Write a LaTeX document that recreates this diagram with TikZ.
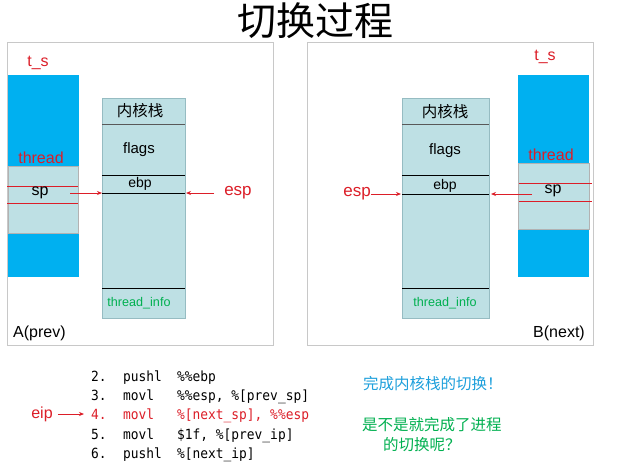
\documentclass[tikz,border=0pt]{standalone}
\usepackage{fontspec}
\setmainfont{Liberation Sans}
\newfontfamily\cjk{Noto Sans CJK SC}
\newfontfamily\codefont[FakeStretch=0.92]{DejaVu Sans Mono}
\usetikzlibrary{arrows.meta}
\definecolor{tsblue}{RGB}{0,176,240}
\definecolor{lightcy}{RGB}{190,224,228}
\definecolor{stkborder}{RGB}{150,188,194}
\definecolor{myred}{RGB}{220,30,40}
\definecolor{mygreen}{RGB}{0,176,80}
\definecolor{mycyan}{RGB}{30,160,220}
\definecolor{framegray}{RGB}{200,200,200}
\begin{document}
\begin{tikzpicture}[x=1pt,y=-1pt,
  panel/.style={draw=framegray,line width=1pt},
  stackbox/.style={fill=lightcy,draw=stkborder,line width=0.8pt},
  tsbox/.style={fill=tsblue,draw=none},
  threadbox/.style={fill=lightcy,draw=gray!60,line width=0.5pt},
  redline/.style={draw=myred,line width=1pt},
  divline/.style={draw=black,line width=1pt},
  hdrline/.style={draw=gray!70!black,line width=0.8pt},
  lbl/.style={inner sep=0pt,font=\fontsize{15}{15}\selectfont},
  redlbl/.style={lbl,text=myred,font=\fontsize{16}{16}\selectfont},
  esplbl/.style={inner sep=0pt,text=myred,font=\fontsize{17}{17}\selectfont},
  ptr/.style={draw=myred,line width=0.9pt,-{Stealth[length=5pt,width=4pt]}},
  code/.style={inner sep=0pt,anchor=base west,font=\codefont\fontsize{14}{14}\selectfont},
]
\useasboundingbox (0,0) rectangle (632,469);
\fill[white] (0,0) rectangle (632,469);

% title
\node[inner sep=0pt,font=\cjk\fontsize{39}{39}\selectfont] (title) at (315,21) {切换过程};

% panels
\draw[panel] (7,42) rectangle (273,345);
\draw[panel] (307,42) rectangle (593,345);

% ---------- left panel ----------
\fill[tsbox] (8,75) rectangle (79,277);
\draw[threadbox] (8,166) rectangle (78,233);
\draw[redline] (7,186) -- (78,186);
\draw[redline] (7,203) -- (78,203);
\node[redlbl] (lts) at (38,63) {t\_s};
\node[redlbl] (lthread) at (41,158) {thread};
\node[lbl,font=\fontsize{16}{16}\selectfont,anchor=base] (lsp) at (40,195) {sp};

\draw[stackbox] (102,98) rectangle (185,318);
\draw[hdrline] (102,124) -- (185,124);
\draw[divline] (102,175) -- (185,175);
\draw[divline] (102,193) -- (185,193);
\draw[divline] (102,288) -- (185,288);
\coordinate (lslot) at (102,193);
\coordinate (lslotr) at (186,193);
\node[lbl,font=\cjk\fontsize{15.5}{15.5}\selectfont] (lhdr) at (140,111) {内核栈};
\node[lbl] (lflags) at (139,150) {flags};
\node[lbl,font=\fontsize{14}{14}\selectfont] (lebp) at (140,184) {ebp};
\node[lbl,text=mygreen,font=\fontsize{12.6}{12.6}\selectfont] (linfo) at (139,303) {thread\_info};
\node[lbl,font=\fontsize{16}{16}\selectfont,anchor=west] (aprev) at (13,333) {A(prev)};
\node[esplbl] (lesp) at (238,193) {esp};
\coordinate (lspend) at (70,193);
\draw[ptr] (lspend) -- (lslot);
\draw[ptr] (lesp.west) ++(-10,0) -- (lslotr);

% ---------- right panel ----------
\fill[tsbox] (518,75) rectangle (589,277);
\draw[threadbox] (518,163) rectangle (589,229);
\draw[redline] (519,183) -- (592,183);
\draw[redline] (519,201) -- (592,201);
\node[redlbl] (rts) at (545,57) {t\_s};
\node[redlbl] (rthread) at (551,155) {thread};
\node[lbl,font=\fontsize{16}{16}\selectfont,anchor=base] (rsp) at (553,193) {sp};

\draw[stackbox] (402,98) rectangle (489,318);
\draw[hdrline] (402,124) -- (489,124);
\draw[divline] (402,175) -- (489,175);
\draw[divline] (402,194) -- (489,194);
\draw[divline] (402,288) -- (489,288);
\coordinate (rslot) at (401,194);
\coordinate (rslotr) at (491,194);
\node[lbl,font=\cjk\fontsize{15.5}{15.5}\selectfont] (rhdr) at (445,112) {内核栈};
\node[lbl] (rflags) at (445,151) {flags};
\node[lbl,font=\fontsize{14}{14}\selectfont] (rebp) at (445,186) {ebp};
\node[lbl,text=mygreen,font=\fontsize{12.6}{12.6}\selectfont] (rinfo) at (445,303) {thread\_info};
\node[lbl,font=\fontsize{16}{16}\selectfont,anchor=east] (bnext) at (585,333) {B(next)};
\node[esplbl] (resp) at (357,194) {esp};
\coordinate (rspend) at (532,194);
\draw[ptr] (resp.east) -- (rslot);
\draw[ptr] (rspend) -- (rslotr);

% ---------- code ----------
\node[code] (n2) at (91,381) {2.};
\node[code] (m2) at (123,381) {pushl};
\node[code] (o2) at (177,381) {\%\%ebp};
\node[code] (n3) at (91,400) {3.};
\node[code] (m3) at (123,400) {movl};
\node[code] (o3) at (177,400) {\%\%esp, \%[prev\_sp]};
\node[code,text=myred] (n4) at (91,419) {4.};
\node[code,text=myred] (m4) at (123,419) {movl};
\node[code,text=myred] (o4) at (177,419) {\%[next\_sp], \%\%esp};
\node[code] (n5) at (91,439) {5.};
\node[code] (m5) at (123,439) {movl};
\node[code] (o5) at (177,439) {\$1f, \%[prev\_ip]};
\node[code] (n6) at (91,458) {6.};
\node[code] (m6) at (123,458) {pushl};
\node[code] (o6) at (177,458) {\%[next\_ip]};

\node[esplbl,font=\fontsize{16}{16}\selectfont] (eip) at (42,414) {eip};
\coordinate (eipend) at (84,414);
\draw[draw=myred,line width=0.8pt,-{Stealth[length=5pt,width=4pt]}] (eip.east) ++(5,0) -- (eipend);

% ---------- right notes ----------
\node[inner sep=0pt,anchor=west,text=mycyan,font=\cjk\fontsize{15.5}{15.5}\selectfont] (note1) at (363,384) {完成内核栈的切换！};
\node[inner sep=0pt,anchor=west,text=mygreen,font=\cjk\fontsize{15.5}{15.5}\selectfont] (note2) at (362,425) {是不是就完成了进程};
\node[inner sep=0pt,anchor=west,text=mygreen,font=\cjk\fontsize{15.5}{15.5}\selectfont] (note3) at (383,445) {的切换呢？};
\end{tikzpicture}
\end{document}
